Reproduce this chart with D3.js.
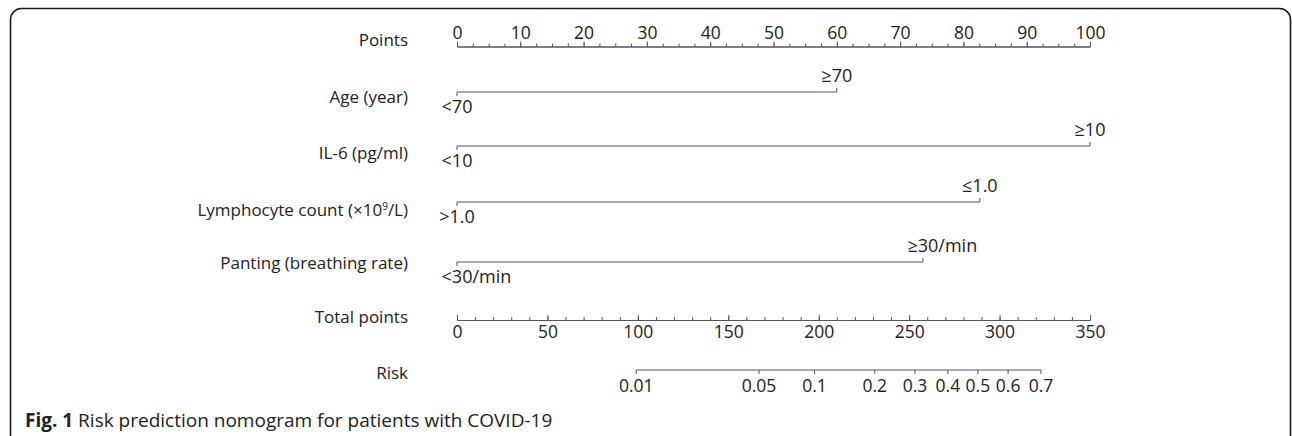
<!DOCTYPE html>
<html>
<head>
<meta charset="utf-8">
<script src="https://cdn.jsdelivr.net/npm/d3@7"></script>
<style>
  html, body { margin: 0; padding: 0; background: #fff; }
  svg text { font-family: "Open Sans", "Noto Sans", sans-serif; fill: #222; }
</style>
</head>
<body>
<div id="chart"></div>
<script>
const width = 1292
const height = 436

// axis ticks
const pointsTicks = [0, 10, 20, 30, 40, 50, 60, 70, 80, 90, 100]
const totalTicks = [0, 50, 100, 150, 200, 250, 300, 350]
const riskTicks = [0.01, 0.05, 0.1, 0.2, 0.3, 0.4, 0.5, 0.6, 0.7]
// total points at which each risk tick sits
const riskPoints = [99.1, 167.0, 197.7, 231.0, 253.2, 271.4, 288.0, 304.7, 322.9]

// predictors
const varNames = ["Age (year)", "IL-6 (pg/ml)", "Lymphocyte count (×10⁹/L)", "Panting (breathing rate)"]
const lowLabels = ["<70", "<10", ">1.0", "<30"]
const highLabels = ["≥70", "≥10", "≤1.0", "≥30"]
const unitLabels = ["", "", "", "/min"]
const lowPoints = [0, 0, 0, 0]
const highPoints = [60, 100, 82.6, 73.6]

const x0 = 457, x1 = 1090
const rowY = {points: 46.5, vars: [92, 146, 202, 262], total: 320, risk: 370}
const labelY = {points: 40, vars: [97, 153, 210, 263], total: 317, risk: 373}
const labelX = 408
const lineColor = "#555"
const numSize = 17.5

const svg = d3.select("#chart").append("svg")
    .attr("width", width)
    .attr("height", height)

// frame
svg.append("rect")
    .attr("x", 10.5).attr("y", 8.5)
    .attr("width", 1280).attr("height", 440)
    .attr("rx", 11)
    .attr("fill", "none")
    .attr("stroke", "#1a1a1a")
    .attr("stroke-width", 1.6)

const xPts = d3.scaleLinear().domain([0, 100]).range([x0, x1])
const xTot = d3.scaleLinear().domain([0, 350]).range([x0, x1])

function styleAxis(g) {
    g.select(".domain").attr("stroke", lineColor)
    g.selectAll(".tick line").attr("stroke", lineColor)
    g.selectAll("text")
        .attr("font-family", null)
        .attr("font-size", numSize)
        .attr("fill", "#222")
}

// Points axis
svg.append("g")
    .attr("transform", `translate(0,${rowY.points})`)
    .call(d3.axisTop(xPts).tickValues(d3.range(0, 100.1, 2.5)).tickSize(3).tickFormat("").tickSizeOuter(0))
    .call(styleAxis)
svg.append("g")
    .attr("transform", `translate(0,${rowY.points})`)
    .call(d3.axisTop(xPts).tickValues(pointsTicks).tickSize(5).tickPadding(3).tickFormat(d3.format("d")).tickSizeOuter(0))
    .call(styleAxis)

// label centred on its main part, unit text trailing after it
function levelLabel(g, x, y, main, unit) {
    const t = g.append("text")
        .attr("x", x).attr("y", y)
        .attr("font-size", 18)
        .text(main)
    const w = t.node().getComputedTextLength()
    t.attr("x", x - w / 2)
    if (unit) t.append("tspan").text(unit)
}

// predictor lines
varNames.forEach((name, i) => {
    const y = rowY.vars[i]
    const g = svg.append("g")
    g.append("line")
        .attr("x1", xPts(lowPoints[i])).attr("x2", xPts(highPoints[i]))
        .attr("y1", y).attr("y2", y)
        .attr("stroke", lineColor)
    // low level: tick and label below
    g.append("line")
        .attr("x1", xPts(lowPoints[i])).attr("x2", xPts(lowPoints[i]))
        .attr("y1", y).attr("y2", y + 4)
        .attr("stroke", lineColor)
    levelLabel(g, xPts(lowPoints[i]), y + 21, lowLabels[i], unitLabels[i])
    // high level: tick and label above
    g.append("line")
        .attr("x1", xPts(highPoints[i])).attr("x2", xPts(highPoints[i]))
        .attr("y1", y).attr("y2", y - 4)
        .attr("stroke", lineColor)
    levelLabel(g, xPts(highPoints[i]), y - 10, highLabels[i], unitLabels[i])
})

// Total points axis: ticks up, labels below
svg.append("g")
    .attr("transform", `translate(0,${rowY.total})`)
    .call(d3.axisBottom(xTot).tickValues(d3.range(0, 350.1, 10)).tickSize(-3).tickFormat("").tickSizeOuter(0))
    .call(styleAxis)
svg.append("g")
    .attr("transform", `translate(0,${rowY.total})`)
    .call(d3.axisBottom(xTot).tickValues(totalTicks).tickSize(-5).tickPadding(6).tickFormat(d3.format("d")).tickSizeOuter(0))
    .call(styleAxis)

// Risk axis
const riskAxis = svg.append("g")
    .attr("transform", `translate(0,${rowY.risk})`)
riskAxis.append("line")
    .attr("x1", xTot(riskPoints[0])).attr("x2", xTot(riskPoints[riskPoints.length - 1]))
    .attr("stroke", lineColor)
const rt = riskAxis.selectAll(".rtick")
    .data(riskTicks)
    .enter().append("g")
    .attr("transform", (d, i) => `translate(${xTot(riskPoints[i])},0)`)
rt.append("line").attr("y2", 4).attr("stroke", lineColor)
rt.append("text")
    .attr("y", 22)
    .attr("text-anchor", "middle")
    .attr("font-size", numSize)
    .text(d => d)

// row labels
const rowLabels = [["Points", labelY.points]]
    .concat(varNames.map((n, i) => [n, labelY.vars[i]]))
    .concat([["Total points", labelY.total], ["Risk", labelY.risk]])

const lab = svg.selectAll(".rowlabel")
    .data(rowLabels)
    .enter().append("text")
    .attr("class", "rowlabel")
    .attr("x", labelX)
    .attr("y", d => d[1])
    .attr("dy", "0.35em")
    .attr("text-anchor", "end")
    .attr("font-size", 17)

lab.each(function(d) {
    const t = d3.select(this)
    const m = d[0].match(/^(.*×10)⁹(.*)$/)
    if (m) {
        t.append("tspan").text(m[1])
        t.append("tspan").attr("font-size", 10).attr("dy", -6).text("9")
        t.append("tspan").attr("dy", 6).text(m[2])
    } else {
        t.text(d[0])
    }
})

// caption
const cap = svg.append("text")
    .attr("x", 25)
    .attr("y", 427)
    .attr("font-size", 19)
cap.append("tspan").attr("font-weight", "bold").text("Fig. 1")
cap.append("tspan").text(" Risk prediction nomogram for patients with COVID-19")
</script>
</body>
</html>
